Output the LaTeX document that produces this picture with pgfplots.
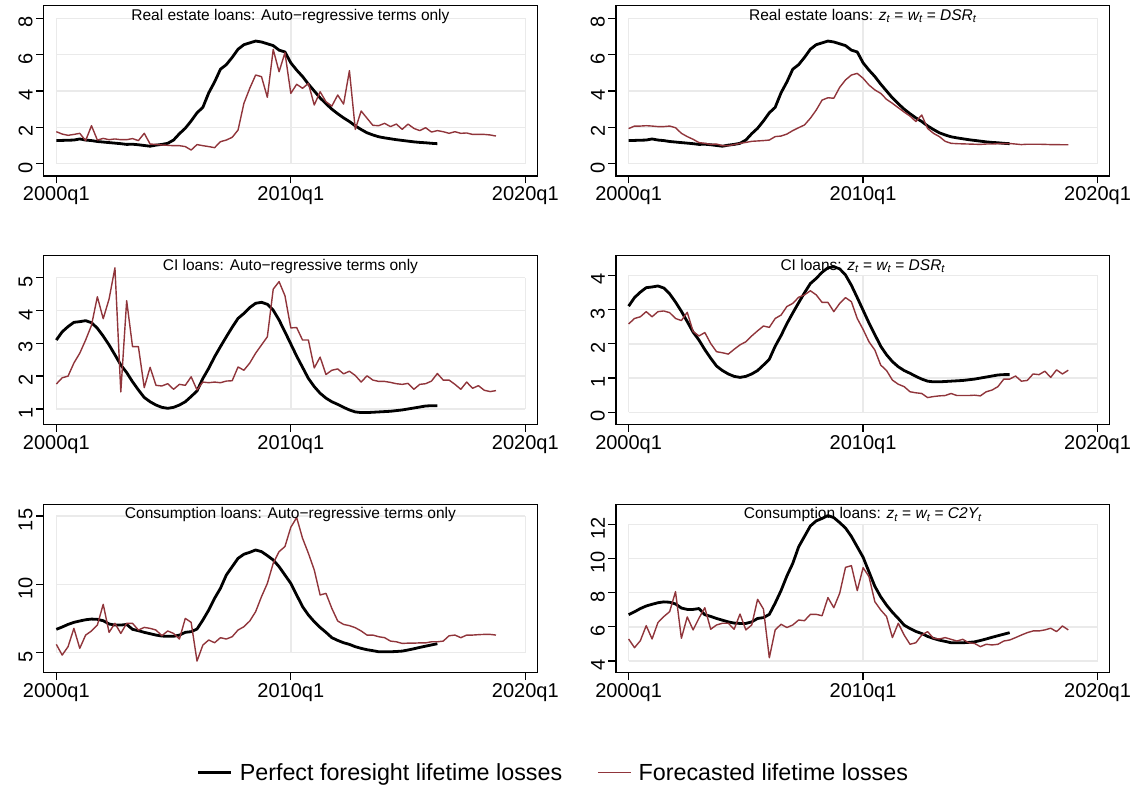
\documentclass[border=0pt]{standalone}
\usepackage{fontspec}
\setmainfont{Liberation Sans}
\usepackage{pgfplots}
\pgfplotsset{compat=1.18}
\usepackage{pgfplotstable}

\definecolor{fcred}{RGB}{144,53,59}
\definecolor{gridgray}{RGB}{234,234,234}

% quarter index t: 0 = 2000q1, 40 = 2010q1, 80 = 2020q1
% pf = perfect foresight lifetime losses, other columns = forecasts
\pgfplotstableread{
t pf ar dsr
0 1.28 1.76 1.93
1 1.28 1.63 2.07
2 1.29 1.56 2.07
3 1.30 1.61 2.09
4 1.36 1.67 2.07
5 1.30 1.27 2.04
6 1.27 2.09 2.04
7 1.22 1.30 2.07
8 1.19 1.39 1.98
9 1.16 1.32 1.67
10 1.13 1.36 1.49
11 1.10 1.32 1.34
12 1.06 1.32 1.16
13 1.07 1.38 1.12
14 1.04 1.27 1.06
15 1.00 1.67 1.08
16 0.96 1.08 0.99
17 1.02 1.06 0.99
18 1.06 1.03 1.05
19 1.12 1.01 1.12
20 1.30 0.99 1.17
21 1.65 0.99 1.23
22 1.95 0.94 1.25
23 2.35 0.75 1.27
24 2.80 1.05 1.30
25 3.10 0.99 1.49
26 3.90 0.94 1.52
27 4.50 0.88 1.63
28 5.20 1.21 1.82
29 5.45 1.30 1.98
30 5.85 1.45 2.13
31 6.30 1.85 2.50
32 6.55 3.32 2.95
33 6.65 4.15 3.50
34 6.75 4.88 3.63
35 6.70 4.79 3.60
36 6.60 3.65 4.20
37 6.50 6.29 4.61
38 6.25 5.06 4.88
39 6.15 6.11 4.97
40 5.55 3.87 4.70
41 5.15 4.37 4.33
42 4.80 4.15 4.06
43 4.38 4.42 3.87
44 4.00 3.23 3.54
45 3.62 3.96 3.32
46 3.30 3.41 3.08
47 3.00 3.17 2.84
48 2.75 3.78 2.62
49 2.52 3.28 2.32
50 2.32 5.12 2.68
51 2.08 1.89 1.94
52 1.88 2.90 1.67
53 1.70 2.50 1.49
54 1.58 2.11 1.23
55 1.48 2.09 1.12
56 1.42 2.22 1.10
57 1.37 2.04 1.09
58 1.32 2.18 1.08
59 1.28 1.89 1.07
60 1.24 2.18 1.06
61 1.20 1.94 1.08
62 1.17 1.82 1.08
63 1.15 1.98 1.10
64 1.12 1.74 1.10
65 1.10 1.82 1.11
66 nan 1.76 1.08
67 nan 1.67 1.05
68 nan 1.76 1.07
69 nan 1.67 1.07
70 nan 1.69 1.07
71 nan 1.61 1.06
72 nan 1.61 1.05
73 nan 1.61 1.05
74 nan 1.58 1.04
75 nan 1.52 1.04
}\realestate

\pgfplotstableread{
t pf ar dsr
0 3.10 1.76 2.58
1 3.35 1.95 2.74
2 3.51 2.00 2.79
3 3.64 2.40 2.94
4 3.66 2.70 2.79
5 3.69 3.10 2.94
6 3.63 3.55 2.96
7 3.46 4.42 2.91
8 3.22 3.75 2.74
9 2.95 4.35 2.68
10 2.65 5.30 2.92
11 2.34 1.52 2.36
12 2.11 4.30 2.23
13 1.83 2.90 2.33
14 1.58 2.90 2.01
15 1.35 1.65 1.77
16 1.22 2.27 1.74
17 1.12 1.72 1.70
18 1.05 1.70 1.84
19 1.02 1.77 1.97
20 1.05 1.60 2.06
21 1.12 1.75 2.23
22 1.22 1.72 2.38
23 1.38 1.98 2.52
24 1.55 1.58 2.48
25 1.93 1.82 2.74
26 2.24 1.80 2.84
27 2.59 1.82 3.09
28 2.90 1.80 3.18
29 3.20 1.85 3.36
30 3.49 1.86 3.43
31 3.76 2.28 3.55
32 3.91 2.18 3.43
33 4.09 2.40 3.21
34 4.22 2.70 3.21
35 4.25 2.95 2.94
36 4.19 3.20 3.18
37 4.01 4.65 3.35
38 3.71 4.88 3.23
39 3.35 4.45 2.74
40 2.98 3.47 2.42
41 2.61 3.48 2.06
42 2.27 3.10 1.82
43 1.93 3.10 1.38
44 1.68 2.25 1.22
45 1.48 2.58 0.94
46 1.33 2.05 0.82
47 1.22 2.18 0.75
48 1.14 2.22 0.60
49 1.05 2.07 0.57
50 0.97 2.15 0.55
51 0.91 2.02 0.43
52 0.89 1.82 0.46
53 0.89 2.01 0.48
54 0.90 1.88 0.49
55 0.91 1.84 0.55
56 0.92 1.84 0.49
57 0.93 1.81 0.49
58 0.95 1.77 0.49
59 0.97 1.75 0.50
60 1.00 1.78 0.48
61 1.03 1.60 0.60
62 1.06 1.75 0.65
63 1.09 1.77 0.75
64 1.10 1.85 0.97
65 1.10 2.08 0.97
66 nan 1.88 1.06
67 nan 1.88 0.91
68 nan 1.75 0.93
69 nan 1.60 1.12
70 nan 1.82 1.10
71 nan 1.63 1.20
72 nan 1.71 1.02
73 nan 1.57 1.24
74 nan 1.53 1.12
75 nan 1.56 1.23
}\ciloans

\pgfplotstableread{
t pf ar ctwoy
0 6.71 5.61 5.29
1 6.88 4.83 4.78
2 7.07 5.44 5.19
3 7.22 6.78 6.07
4 7.32 5.32 5.29
5 7.41 6.29 6.25
6 7.46 6.59 6.60
7 7.44 7.02 6.89
8 7.34 8.54 8.06
9 7.10 6.49 5.33
10 7.02 7.15 6.58
11 7.02 6.41 5.82
12 7.07 7.15 6.51
13 6.71 7.15 7.12
14 6.61 6.66 5.86
15 6.49 6.85 6.11
16 6.39 6.78 6.21
17 6.29 6.66 6.21
18 6.22 6.24 5.86
19 6.20 6.59 6.75
20 6.20 6.41 5.82
21 6.29 6.00 6.11
22 6.49 7.51 7.61
23 6.54 7.22 7.04
24 6.73 4.39 4.19
25 7.39 5.56 5.82
26 8.12 5.93 6.15
27 8.98 5.73 5.96
28 9.71 6.10 6.11
29 10.68 6.00 6.40
30 11.29 6.17 6.36
31 11.90 6.66 6.73
32 12.20 6.90 6.73
33 12.34 7.32 6.65
34 12.51 8.00 7.71
35 12.39 9.10 7.12
36 12.10 10.07 7.96
37 11.78 11.54 9.48
38 11.29 12.39 9.58
39 10.68 12.76 8.12
40 10.07 14.17 9.46
41 9.22 14.88 8.94
42 8.37 13.37 7.47
43 7.76 12.27 6.99
44 7.27 11.05 6.60
45 6.85 9.22 5.37
46 6.49 9.34 6.21
47 6.10 8.24 5.52
48 5.90 7.32 4.98
49 5.73 7.07 5.07
50 5.61 6.98 5.52
51 5.44 6.83 5.72
52 5.32 6.59 5.33
53 5.22 6.29 5.29
54 5.15 6.29 5.37
55 5.07 6.17 5.27
56 5.07 6.10 5.17
57 5.07 5.85 5.27
58 5.09 5.80 5.07
59 5.12 5.68 5.03
60 5.20 5.70 4.84
61 5.29 5.70 4.98
62 5.39 5.72 4.94
63 5.48 5.72 4.98
64 5.57 5.80 5.17
65 5.66 5.80 5.23
66 nan 5.85 5.37
67 nan 6.24 5.52
68 nan 6.29 5.66
69 nan 6.10 5.76
70 nan 6.29 5.76
71 nan 6.29 5.82
72 nan 6.32 5.92
73 nan 6.34 5.72
74 nan 6.34 6.05
75 nan 6.29 5.82
}\consumption

\tikzset{gridline/.style={gridgray, line width=1.4bp}}

\pgfplotsset{
  panel/.style={
    scale only axis,
    width=493.7bp,
    anchor=south west,
    xmin=-2.17, xmax=82.05,
    xtick={0,40,80},
    xticklabels={2000q1,2010q1,2020q1},
    tick align=outside,
    tick pos=left,
    major tick length=7.5bp,
    axis line style={line width=1.3bp},
    every tick/.style={black, line width=1.3bp},
    ticklabel style={font=\fontsize{20bp}{24bp}\selectfont},
    yticklabel style={rotate=90, xshift=-4bp},
    /pgf/number format/assume math mode=true,
    every axis title shift=0pt,
    title style={at={(0.5,1)}, anchor=base, yshift=-14.7bp,
                 font=\fontsize{15.5bp}{18bp}\selectfont},
    % key sample: the empty path lowers the cell centre so the line sits mid-text
    legend image code/.code={\draw[##1] (0bp,0bp) -- (33bp,0bp); \path (0bp,-4bp);},
  },
  pfline/.style={black, line width=2.8bp, line join=round},
  fcline/.style={fcred, line width=1.4bp, line join=round},
}

% light grid spanning the labelled tick range only
\newcommand\panelgrid[3]{%
  \pgfplotsinvokeforeach{#3}{\draw[gridline] (axis cs:0,##1) -- (axis cs:80,##1);}
  \pgfplotsinvokeforeach{0,40,80}{\draw[gridline] (axis cs:##1,#1) -- (axis cs:##1,#2);}
}

\newcommand\zwt[1]{\textit{z\textsubscript{t}} = \textit{w\textsubscript{t}} = \textit{#1\textsubscript{t}}}

\begin{document}
\begin{tikzpicture}
\useasboundingbox (0,0) rectangle (1137bp,785bp);

% Row 1: real estate loans
\begin{axis}[panel, at={(43.6bp,609bp)}, height=170.3bp,
  ymin=-0.679, ymax=8.697, ytick={0,2,4,6,8},
  title={Real estate loans: Auto−regressive terms only}]
  \panelgrid{0}{8}{0,2,4,6,8}
  \addplot[pfline] table[x=t,y=pf]{\realestate};
  \addplot[fcline] table[x=t,y=ar]{\realestate};
\end{axis}
\begin{axis}[panel, at={(615.9bp,609bp)}, height=170.3bp,
  ymin=-0.679, ymax=8.697, ytick={0,2,4,6,8},
  title={Real estate loans: \zwt{DSR}}]
  \panelgrid{0}{8}{0,2,4,6,8}
  \addplot[pfline] table[x=t,y=pf]{\realestate};
  \addplot[fcline] table[x=t,y=dsr]{\realestate};
\end{axis}

% Row 2: CI loans
\begin{axis}[panel, at={(43.6bp,360.7bp)}, height=168.6bp,
  ymin=0.533, ymax=5.67, ytick={1,2,3,4,5},
  title={CI loans: Auto−regressive terms only}]
  \panelgrid{1}{5}{1,2,3,4,5}
  \addplot[pfline] table[x=t,y=pf]{\ciloans};
  \addplot[fcline] table[x=t,y=ar]{\ciloans};
\end{axis}
\begin{axis}[panel, at={(615.9bp,360.7bp)}, height=168.6bp,
  ymin=-0.35, ymax=4.574, ytick={0,1,2,3,4},
  title={CI loans: \zwt{DSR}}]
  \panelgrid{0}{4}{0,1,2,3,4}
  \addplot[pfline] table[x=t,y=pf]{\ciloans};
  \addplot[fcline] table[x=t,y=dsr]{\ciloans};
\end{axis}

% Row 3: consumption loans, carries the shared legend
\begin{axis}[panel, at={(43.6bp,112.3bp)}, height=168.4bp,
  ymin=3.54, ymax=15.85, ytick={5,10,15},
  title={Consumption loans: Auto−regressive terms only},
  legend columns=2,
  legend cell align=left,
  legend style={at={(0.3107,-0.593)}, anchor=west, draw=none, fill=none,
    inner sep=0pt, outer sep=0pt,
    font=\fontsize{23.3bp}{28bp}\selectfont,
    nodes={inner sep=0pt},
    /tikz/every odd column/.append style={column sep=7bp},
    /tikz/every even column/.append style={column sep=35bp}}]
  \panelgrid{5}{15}{5,10,15}
  \addplot[pfline] table[x=t,y=pf]{\consumption};
  \addlegendentry{Perfect foresight lifetime losses}
  \addplot[fcline] table[x=t,y=ar]{\consumption};
  \addlegendentry{Forecasted lifetime losses}
\end{axis}
\begin{axis}[panel, at={(615.9bp,112.3bp)}, height=168.4bp,
  ymin=3.317, ymax=13.17, ytick={4,6,8,10,12},
  title={Consumption loans: \zwt{C2Y}}]
  \panelgrid{4}{12}{4,6,8,10,12}
  \addplot[pfline] table[x=t,y=pf]{\consumption};
  \addplot[fcline] table[x=t,y=ctwoy]{\consumption};
\end{axis}
\end{tikzpicture}
\end{document}
